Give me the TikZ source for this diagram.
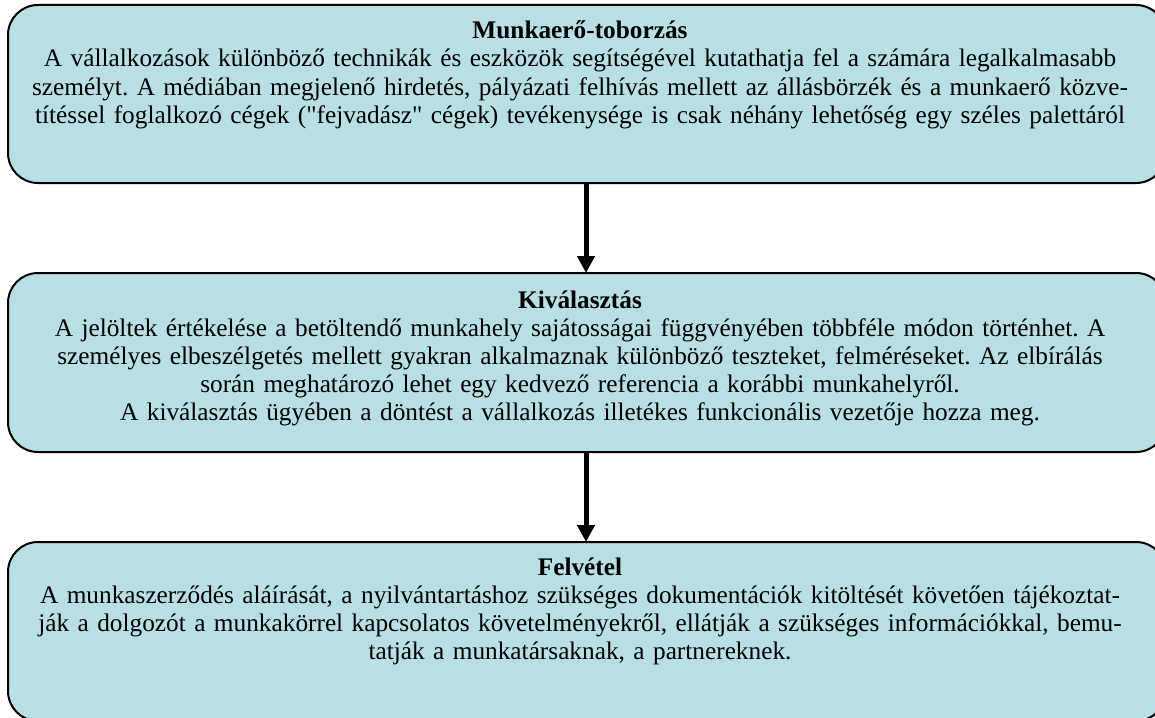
\documentclass[tikz,border=0pt]{standalone}
\usepackage{fontspec}
\setmainfont{Liberation Serif}
\usetikzlibrary{arrows.meta}
\definecolor{boxfill}{RGB}{184,223,227}
\frenchspacing
\tikzset{
  stagebox/.style={draw=black, line width=2pt, fill=boxfill, rounded corners=30pt},
  stagetext/.style={anchor=base, inner sep=0pt, align=center, text width=1150pt,
    font=\fontsize{25.3}{28}\selectfont},
  flowarrow/.style={line width=5pt, -{Triangle[width=17pt,length=17pt]}}
}
\begin{document}
\begin{tikzpicture}[x=1pt,y=-1pt]
\useasboundingbox (0,0) rectangle (1155,717);
\clip (0,0) rectangle (1155,717);
% boxes
\draw[stagebox] (8,5) rectangle (1166,183);
\draw[stagebox] (8,273) rectangle (1166,452);
\draw[stagebox] (8,542) rectangle (1166,721);
\coordinate (b1s) at (586,183);
\coordinate (b2n) at (586,273);
\coordinate (b2s) at (586,452);
\coordinate (b3n) at (586,542);
% texts
\node[stagetext] (t1) at (580,39) {\textbf{Munkaerő-toborzás}\\
A vállalkozások különböző technikák és eszközök segítségével kutathatja fel a számára legalkalmasabb\\
személyt. A médiában megjelenő hirdetés, pályázati felhívás mellett az állásbörzék és a munkaerő közve-\\
títéssel foglalkozó cégek (\textquotedbl fejvadász\textquotedbl{} cégek) tevékenysége is csak néhány lehetőség egy széles palettáról};
\node[stagetext] (t2) at (580,308) {\textbf{Kiválasztás}\\
A jelöltek értékelése a betöltendő munkahely sajátosságai függvényében többféle módon történhet. A\\
személyes elbeszélgetés mellett gyakran alkalmaznak különböző teszteket, felméréseket. Az elbírálás\\
során meghatározó lehet egy kedvező referencia a korábbi munkahelyről.\\
A kiválasztás ügyében a döntést a vállalkozás illetékes funkcionális vezetője hozza meg.};
\node[stagetext] (t3) at (580,575) {\textbf{Felvétel}\\
A munkaszerződés aláírását, a nyilvántartáshoz szükséges dokumentációk kitöltését követően tájékoztat-\\
ják a dolgozót a munkakörrel kapcsolatos követelményekről, ellátják a szükséges információkkal, bemu-\\
tatják a munkatársaknak, a partnereknek.};
% arrows
\draw[flowarrow] (b1s) -- (b2n);
\draw[flowarrow] (b2s) -- (b3n);
\end{tikzpicture}
\end{document}
